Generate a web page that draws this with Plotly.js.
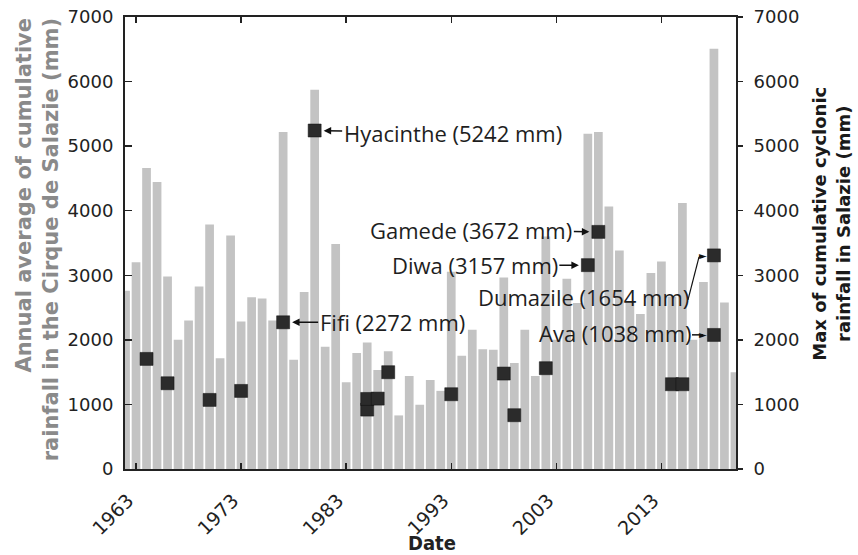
<!DOCTYPE html>
<html>
<head>
<meta charset="utf-8">
<script src="https://cdn.plot.ly/plotly-3.0.1.min.js"></script>
<style>html,body{margin:0;padding:0;background:#fff;}#chart{width:858px;height:555px;}</style>
</head>
<body>
<div id="chart"></div>
<script>
// Annual average of cumulative rainfall in the Cirque de Salazie (mm)
const years = [1962,1963,1964,1965,1966,1967,1968,1969,1970,1971,1972,1973,1974,1975,1976,1977,1978,1979,1980,1981,1982,1983,1984,1985,1986,1987,1988,1989,1990,1991,1992,1993,1994,1995,1996,1997,1998,1999,2000,2001,2002,2003,2004,2005,2006,2007,2008,2009,2010,2011,2012,2013,2014,2015,2016,2017,2018,2019,2020];
const annualRain = [2760,3200,4660,4445,2980,2000,2300,2825,3785,1715,3615,2285,2660,2640,2300,5220,1690,2740,5875,1895,3485,1345,1795,1960,1535,1825,830,1440,995,1380,1210,3055,1755,2155,1855,1845,2965,1640,2155,1440,3600,2000,2945,2570,5190,5220,4065,3385,2600,2400,3035,3215,2670,4120,2000,2895,6510,2580,1500];

// Max of cumulative cyclonic rainfall in Salazie (mm)
const cycloneYears = [1964,1966,1970,1973,1977,1980,1985,1985,1986,1987,1993,1998,1999,2002,2006,2007,2014,2015,2018,2018];
const cycloneRain = [1705,1328,1070,1209,2272,5242,920,1085,1090,1499,1158,1478,833,1561,3157,3672,1313,1313,3308,2076];

// Labelled cyclones
const namedLabels = ["Hyacinthe (5242 mm)","Fifi (2272 mm)","Gamede (3672 mm)","Diwa (3157 mm)","Dumazile (1654 mm)","Ava (1038 mm)"];
const namedIdx = [5,4,15,14,18,19];

const tickYears = [1963,1973,1983,1993,2003,2013];
const yTicks = [0,1000,2000,3000,4000,5000,6000,7000];

const labelFont = {family:"Open Sans, Noto Sans, sans-serif", size:22, color:"#1e1e1e"};
const tickFont = {family:"DejaVu Sans, sans-serif", size:18, color:"#222"};

const traces = [
  {type:"bar", x:years, y:annualRain, marker:{color:"#c3c3c3"}, hoverinfo:"skip"},
  {type:"scatter", mode:"markers", x:cycloneYears, y:cycloneRain, yaxis:"y2",
   marker:{symbol:"square", size:13, color:"#2b2b2b", line:{color:"#111", width:0.5}}, hoverinfo:"skip"}
];

// offsets (pixels) of label centres from their point
const offs = [[138,2],[109,0],[-127,-2],[-113,0]];
const annotations = [];
offs.forEach((o,i)=>{
  const k = namedIdx[i];
  annotations.push({x:cycloneYears[k], y:cycloneRain[k], xref:"x", yref:"y2", text:namedLabels[i],
    showarrow:true, ax:o[0], ay:o[1], arrowhead:2, arrowsize:1, arrowwidth:1.5,
    arrowcolor:"#111", standoff:9, font:labelFont});
});
// Dumazile and Ava: text placed separately, leader lines + arrow heads into the markers
annotations.push({x:0.7496, y:0.3803, xref:"paper", yref:"paper", text:namedLabels[4], showarrow:false,
  font:labelFont, xanchor:"center", yanchor:"middle"});
annotations.push({x:0.8028, y:0.3012, xref:"paper", yref:"paper", text:namedLabels[5], showarrow:false,
  font:labelFont, xanchor:"center", yanchor:"middle"});
[18,19].forEach(k=>{
  annotations.push({x:cycloneYears[k], y:cycloneRain[k], xref:"x", yref:"y2", text:"\u25BA",
    showarrow:false, xanchor:"center", yanchor:"middle", xshift:-11, yshift:0,
    font:{family:"DejaVu Sans, sans-serif", size:10, color:"#111"}});
});

// axis titles
annotations.push({x:-0.1432, y:0.507, xref:"paper", yref:"paper", textangle:-90, align:"right",
  text:"Annual average of cumulative<br>rainfall in the Cirque de Salazie (mm)", showarrow:false,
  xanchor:"center", yanchor:"middle", font:{family:"DejaVu Sans, sans-serif", size:21, color:"#8a8a8a", weight:"bold"}});
annotations.push({x:1.1555, y:0.5426, xref:"paper", yref:"paper", textangle:-90, align:"center",
  text:"Max of cumulative cyclonic<br>rainfall in Salazie (mm)", showarrow:false,
  xanchor:"center", yanchor:"middle", font:{family:"DejaVu Sans, sans-serif", size:18, color:"#1a1a1a", weight:"bold"}});
annotations.push({x:0.5025, y:-0.164, xref:"paper", yref:"paper", text:"<b>Date</b>", showarrow:false,
  xanchor:"center", yanchor:"middle", font:{family:"DejaVu Sans Condensed, DejaVu Sans, sans-serif", size:20, color:"#222"}});

const layout = {
  width:858, height:555,
  margin:{l:125, r:122, t:17, b:86, pad:0},
  paper_bgcolor:"#fff", plot_bgcolor:"#fff",
  showlegend:false, hovermode:false, bargap:0.17,
  xaxis:{range:[1961.95,2020.1], tickvals:tickYears, ticktext:tickYears.map(String), tickangle:-45,
    ticks:"inside", ticklen:6, tickwidth:1.5, tickcolor:"#222", showline:true, linecolor:"#222", linewidth:2,
    mirror:"ticks", showgrid:false, zeroline:false, ticklabelstandoff:11, ticklabelshift:-8,
    tickfont:{family:"DejaVu Sans, sans-serif", size:19, color:"#222"}},
  yaxis:{range:[0,7000], tickvals:yTicks, ticks:"inside", ticklen:7, tickwidth:1.5, tickcolor:"#222",
    showline:true, linecolor:"#222", linewidth:2, showgrid:false, zeroline:false, tickfont:tickFont, ticklabelstandoff:6},
  yaxis2:{range:[0,7000], tickvals:yTicks, overlaying:"y", side:"right", ticks:"outside", ticklen:5, tickwidth:1.5,
    tickcolor:"#222", showline:true, linecolor:"#222", linewidth:2, showgrid:false, zeroline:false,
    tickfont:tickFont, ticklabelstandoff:7},
  shapes:[
    {type:"line", xref:"paper", yref:"paper", x0:0.9214, y0:0.3743, x1:0.9395, y1:0.4695, line:{color:"#111", width:1.2}},
    {type:"line", xref:"paper", yref:"paper", x0:0.9395, y0:0.4695, x1:0.9460, y1:0.4695, line:{color:"#111", width:1.2}},
    {type:"line", xref:"paper", yref:"paper", x0:0.9280, y0:0.2968, x1:0.9460, y1:0.2968, line:{color:"#111", width:1.5}}
  ],
  annotations:annotations
};

Plotly.newPlot("chart", traces, layout, {staticPlot:true, displayModeBar:false});
</script>
</body>
</html>
